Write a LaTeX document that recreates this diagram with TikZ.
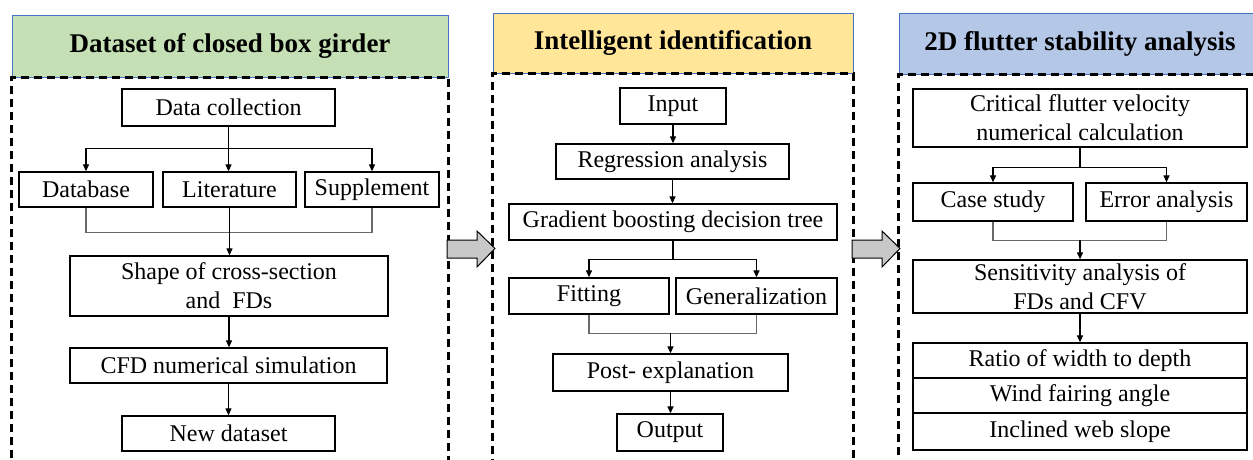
\documentclass[tikz,border=0pt]{standalone}
\usepackage{fontspec}
\setmainfont{Liberation Serif}
\newfontfamily\bodyfont{Liberation Serif}
\usetikzlibrary{arrows.meta,calc}
\definecolor{hdgreen}{RGB}{197,224,180}
\definecolor{hdyellow}{RGB}{255,230,153}
\definecolor{hdblue}{RGB}{180,199,231}
\definecolor{hdborder}{RGB}{68,114,196}
\definecolor{mergegray}{RGB}{105,105,105}
\definecolor{blockgray}{RGB}{200,200,200}
\begin{document}
\begin{tikzpicture}[x=1pt,y=-1pt,
  box/.style={draw=black, line width=1.3pt, inner sep=0pt, align=center,
    font=\bodyfont\fontsize{24}{29}\selectfont},
  hdr/.style={draw=hdborder, line width=0.9pt, inner sep=0pt,
    font=\bodyfont\bfseries\fontsize{27}{30}\selectfont},
  frame/.style={draw=black, line width=2.4pt, dash pattern=on 8pt off 5pt},
  conn/.style={draw=black, line width=1.2pt, -{Triangle[length=7pt,width=6pt]}},
  plain/.style={draw=black, line width=1.2pt},
  mergeline/.style={draw=mergegray, line width=1.3pt},
  blockarrow/.style={draw=black, line width=1pt, fill=blockgray, line join=miter}]
\clip (0,0) rectangle (1253,459);
\fill[white] (0,0) rectangle (1253,459);

% headers
\node[hdr, fill=hdgreen, minimum width=436pt, minimum height=62pt] (h1) at (230,46) {Dataset of closed box girder};
\node[hdr, fill=hdyellow, minimum width=360pt, minimum height=60pt] (h2) at (673,43) {Intelligent identification};
\node[hdr, fill=hdblue, minimum width=362pt, minimum height=61pt] (h3) at (1080,43.5) {2D flutter stability analysis};

% dashed frames
\draw[frame] ($(h1.south west)+(0,420)$) -- (h1.south west) -- (h1.south east) -- ++(0,420);
\draw[frame] ($(h2.south west)+(0,420)$) -- (h2.south west) -- (h2.south east) -- ++(0,420);
\draw[frame] ($(h3.south west)+(0,420)$) -- (h3.south west) -- (h3.south east) -- ++(0,420);

% block arrows
\draw[blockarrow] (447,240) -- (477,240) -- (477,231) -- (495,248.5) -- (477,267) -- (477,258) -- (447,258) -- cycle;
\draw[blockarrow] (852,240) -- (882,240) -- (882,231) -- (900,248.5) -- (882,267) -- (882,258) -- (852,258) -- cycle;

% panel 1
\node[box, minimum width=213pt, minimum height=37pt] (dc) at (228.5,107.5) {Data collection};
\node[box, minimum width=134pt, minimum height=35pt] (db) at (86,189.5) {Database};
\node[box, minimum width=133pt, minimum height=35pt] (lit) at (229.5,189.5) {Literature};
\node[box, minimum width=134pt, minimum height=35pt] (sup) at (372,189.5) {Supplement};
\node[box, minimum width=318pt, minimum height=60pt] (shape) at (229,286) {Shape of cross-section\\and\ \ FDs};
\node[box, minimum width=317pt, minimum height=35pt] (cfd) at (228.5,365.5) {CFD numerical simulation};
\node[box, minimum width=213pt, minimum height=35pt] (nd) at (228.5,433.5) {New dataset};

\coordinate (b1) at ($(dc.south)+(0,22)$);
\draw[conn] (dc.south) -- (dc.south |- lit.north);
\draw[conn] (b1) -| (db.north);
\draw[conn] (b1) -| (sup.north);
\coordinate (m1) at ($(lit.south)+(0,25)$);
\draw[mergeline] (db.south) |- (m1) -| (sup.south);
\draw[conn] (lit.south) -- (lit.south |- shape.north);
\draw[conn] (shape.south) -- (shape.south |- cfd.north);
\draw[conn] (cfd.south) -- (cfd.south |- nd.north);

% panel 2
\node[box, minimum width=106pt, minimum height=36pt] (inp) at (673,106) {Input};
\node[box, minimum width=233pt, minimum height=35pt] (reg) at (672.5,161.5) {Regression analysis};
\node[box, minimum width=328pt, minimum height=36pt] (gbdt) at (673,222) {Gradient boosting decision tree};
\node[box, minimum width=160pt, minimum height=36pt] (fit) at (589,296) {Fitting};
\node[box, minimum width=161pt, minimum height=36pt] (gen) at (756.5,296) {Generalization};
\node[box, minimum width=235pt, minimum height=37pt] (post) at (670.5,372.5) {Post- explanation};
\node[box, minimum width=106pt, minimum height=37pt] (out) at (670,432.5) {Output};

\draw[conn] (inp.south) -- (inp.south |- reg.north);
\draw[conn] (reg.south) -- (reg.south |- gbdt.north);
\coordinate (b2) at ($(gbdt.south)+(0,19)$);
\draw[plain] (gbdt.south) -- (b2);
\draw[conn] (b2) -| (fit.north);
\draw[conn] (b2) -| (gen.north);
\coordinate (m2) at ($(post.north)+(0,-20)$);
\draw[mergeline] (fit.south) |- (m2) -| (gen.south);
\draw[conn] (m2) -- (post.north);
\draw[conn] (post.south) -- (post.south |- out.north);

% panel 3
\node[box, minimum width=334pt, minimum height=58pt] (crit) at (1080,118) {Critical flutter velocity\\numerical calculation};
\node[box, minimum width=160pt, minimum height=38pt] (case) at (993,202) {Case study};
\node[box, minimum width=161pt, minimum height=38pt] (err) at (1166.5,202) {Error analysis};
\node[box, minimum width=334pt, minimum height=53pt] (sens) at (1080,286.5) {Sensitivity analysis of\\FDs and CFV};
\node[box, minimum width=334pt, minimum height=35pt] (r1) at (1080,360.5) {Ratio of width to depth};
\node[box, minimum width=334pt, minimum height=35pt] (r2) at (1080,395.5) {Wind fairing angle};
\node[box, minimum width=334pt, minimum height=37pt] (r3) at (1080,431.5) {Inclined web slope};

\coordinate (b3) at ($(crit.south)+(0,20)$);
\draw[plain] (crit.south) -- (b3);
\draw[conn] (b3) -| (case.north);
\draw[conn] (b3) -| (err.north);
\coordinate (m3) at ($(sens.north)+(0,-19)$);
\draw[mergeline] (case.south) |- (m3) -| (err.south);
\draw[conn] (m3) -- (sens.north);
\draw[conn] (sens.south) -- (r1.north);
\end{tikzpicture}
\end{document}
